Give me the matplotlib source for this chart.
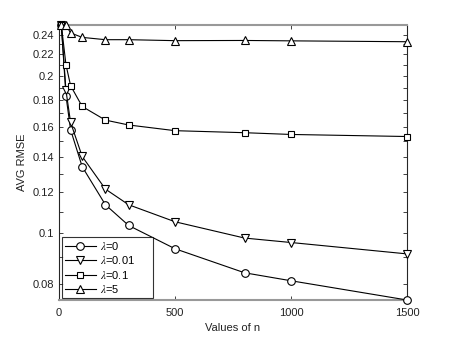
import numpy as np
import matplotlib
matplotlib.use('Agg')
import matplotlib.pyplot as plt
from matplotlib.ticker import FixedLocator, FixedFormatter, NullFormatter

plt.rcParams['font.family'] = ['Liberation Sans', 'DejaVu Sans']
plt.rcParams['mathtext.fontset'] = 'stix'

# n values and average RMSE for each lambda
n_vals = [10, 30, 50, 100, 200, 300, 500, 800, 1000, 1500]
rmse_l0 = [0.2505, 0.1834, 0.1578, 0.1341, 0.1134, 0.1035, 0.0934, 0.0840, 0.0811, 0.0745]
rmse_l001 = [0.2505, 0.1877, 0.1630, 0.1403, 0.1215, 0.1134, 0.1052, 0.0979, 0.0960, 0.0913]
rmse_l01 = [0.2505, 0.2103, 0.1917, 0.1749, 0.1647, 0.1612, 0.1572, 0.1558, 0.1546, 0.1532]
rmse_l5 = [0.2505, 0.2505, 0.2419, 0.2372, 0.2348, 0.2348, 0.2338, 0.2340, 0.2336, 0.2327]

labels = [r'$\lambda$=0', r'$\lambda$=0.01', r'$\lambda$=0.1', r'$\lambda$=5']
markers = ['o', 'v', 's', '^']
msizes = [5.5, 6, 4.5, 6]

yticks = [0.08, 0.1, 0.12, 0.14, 0.16, 0.18, 0.2, 0.22, 0.24]
ytick_labels = ['0.08', '0.1', '0.12', '0.14', '0.16', '0.18', '0.2', '0.22', '0.24']
yminor = [0.09, 0.11, 0.13, 0.15, 0.17, 0.19, 0.21, 0.23]
xticks = [0, 500, 1000, 1500]

fig = plt.figure(figsize=(4.49, 3.38), dpi=100)
ax = fig.add_axes([0.1314, 0.1124, 0.7751, 0.8136])

for ys, lab, mk, ms in zip([rmse_l0, rmse_l001, rmse_l01, rmse_l5], labels, markers, msizes):
    ax.plot(n_vals, ys, color='black', linewidth=0.8, marker=mk, markersize=ms,
            markerfacecolor='white', markeredgecolor='black', markeredgewidth=0.8,
            label=lab, clip_on=False, zorder=3)

ax.set_yscale('log')
ax.set_xlim(0, 1500)
ax.set_ylim(0.0745, 0.2505)
ax.yaxis.set_major_locator(FixedLocator(yticks))
ax.yaxis.set_major_formatter(FixedFormatter(ytick_labels))
ax.yaxis.set_minor_locator(FixedLocator(yminor))
ax.yaxis.set_minor_formatter(NullFormatter())
ax.set_xticks(xticks)
ax.set_xticklabels([str(t) for t in xticks])

ax.tick_params(which='both', direction='in', top=True, right=True, length=3,
               width=0.6, labelsize=8, colors='#222222')
ax.tick_params(axis='x', pad=6)

for s in ['left', 'right']:
    ax.spines[s].set_color('#262626')
    ax.spines[s].set_linewidth(0.8)
for s in ['top', 'bottom']:
    ax.spines[s].set_color('#999999')
    ax.spines[s].set_linewidth(1.5)

ax.set_xlabel('Values of n', fontsize=8, color='#222222', labelpad=3)
ax.set_ylabel('AVG RMSE', fontsize=8, color='#222222', labelpad=4)

leg = ax.legend(loc='lower left', bbox_to_anchor=(0.009, 0.008, 0.262, 0.2),
                mode='expand', borderaxespad=0,
                fontsize=8, frameon=True, fancybox=False, edgecolor='black',
                handlelength=2.8, handletextpad=0.4, labelspacing=0.22,
                borderpad=0.25)
leg.get_frame().set_linewidth(0.8)

fig.savefig('out.png', dpi=100)
